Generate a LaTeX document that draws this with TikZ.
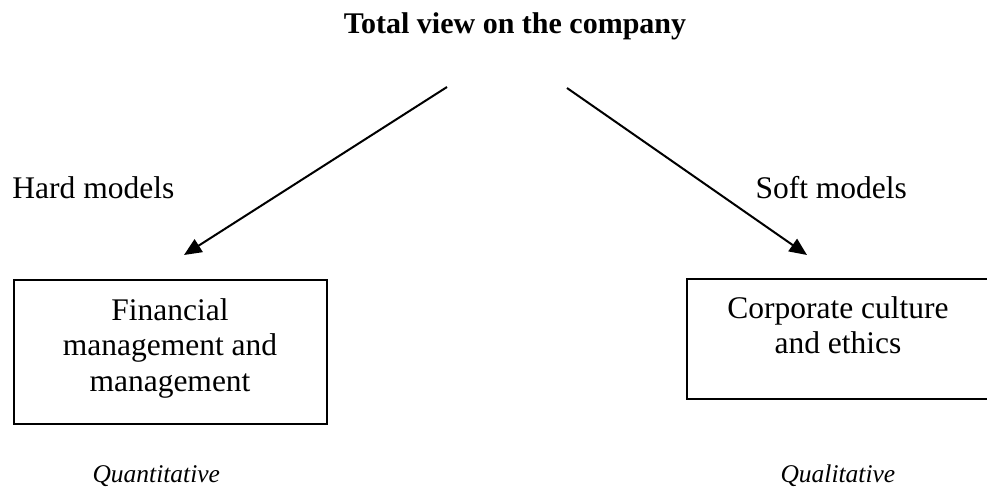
\documentclass[tikz,border=0pt]{standalone}
\usepackage{fontspec}
\setmainfont{Liberation Serif}
\usetikzlibrary{arrows.meta}
\begin{document}
\begin{tikzpicture}[x=0.4pt,y=-0.4pt,
  box/.style={draw, line width=0.8pt, inner sep=0pt},
  txt/.style={inner sep=0pt, font=\fontsize{12.6}{14.2}\selectfont},
  lbl/.style={txt, anchor=base west},
  ital/.style={lbl, font=\fontsize{10.2}{12}\selectfont\itshape},
  boxtext/.style={txt, anchor=north, align=center},
  arr/.style={line width=0.8pt, -{Triangle[length=7pt,width=6pt]}}]
\useasboundingbox (0,0) rectangle (987,488);
\clip (0,0) rectangle (987,488);
% title
\node[txt, anchor=base, font=\fontsize{12}{14}\selectfont\bfseries] (title) at (515,33) {Total view on the company};
% side labels
\node[lbl] (hard) at (12,198) {Hard models};
\node[lbl] (soft) at (755,198) {Soft models};
\node[ital] (quant) at (92,482) {Quantitative};
\node[ital] (qual) at (780,482) {Qualitative};
% boxes
\node[box, minimum width=125.2pt, minimum height=57.6pt] (fin) at (170.5,352) {};
\node[box, minimum width=125.2pt, minimum height=48pt] (corp) at (843.5,339) {};
\node[boxtext] (fintext) at (170,298) {Financial\\management and\\management};
\node[boxtext] (corptext) at (838,296) {Corporate culture\\and ethics};
% arrows
\coordinate (ls) at (447,87);
\coordinate (le) at (184,255);
\coordinate (rs) at (567,88);
\coordinate (re) at (807,255);
\draw[arr] (ls) -- (le);
\draw[arr] (rs) -- (re);
\end{tikzpicture}
\end{document}
